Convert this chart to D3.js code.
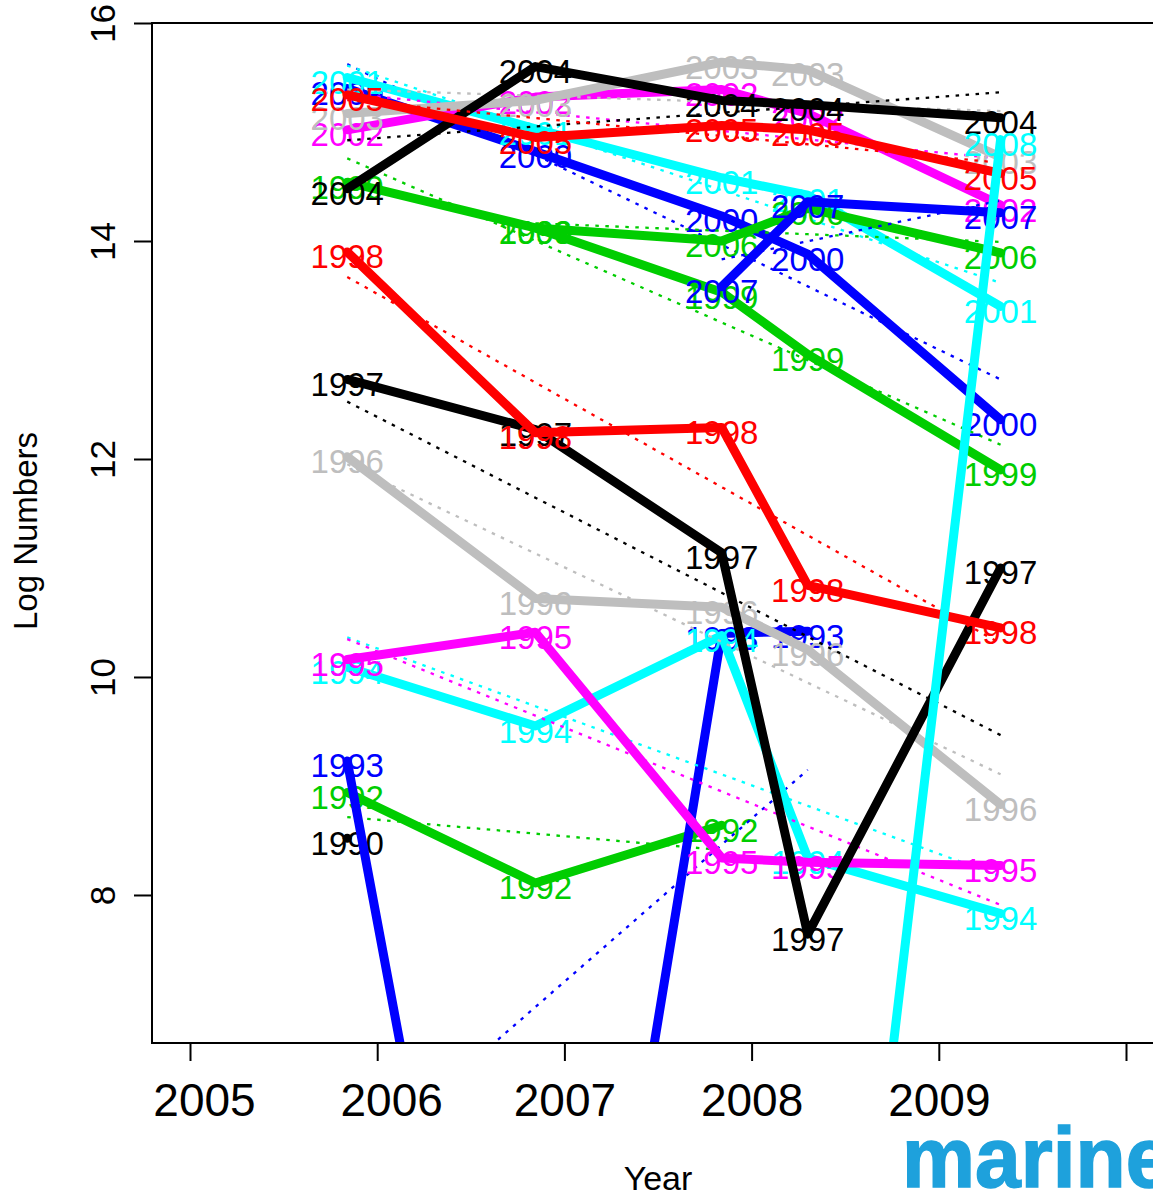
<!DOCTYPE html>
<html>
<head>
<meta charset="utf-8">
<script src="https://d3js.org/d3.v7.min.js"></script>
<style>
  body { margin: 0; background: #fff; }
  svg { display: block; font-family: "Liberation Sans", Arial, Helvetica, sans-serif; }
</style>
</head>
<body>
<script>
// survey dates (decimal year) at which the cohorts were sampled
var surveyTimes = [2005.84, 2006.845, 2007.84, 2008.30, 2009.33];

// year classes, one row of log numbers per year class (null = not in that survey)
var cohorts = [1990, 1992, 1993, 1994, 1995, 1996, 1997, 1998, 1999,
               2000, 2001, 2002, 2003, 2004, 2005, 2006, 2007, 2008];
var logN = [
    [8.52,  null,  null,  null,  null ],   // 1990
    [8.94,  8.11,  8.64,  null,  null ],   // 1992
    [9.23,  0,     10.40, 10.42, null ],   // 1993
    [10.09, 9.55,  10.38, 8.34,  7.83 ],   // 1994
    [10.16, 10.41, 8.34,  8.30,  8.27 ],   // 1995
    [12.02, 10.72, 10.64, 10.25, 8.83 ],   // 1996
    [12.73, 12.27, 11.14, 7.64,  11.00],   // 1997
    [13.90, 12.24, 12.29, 10.84, 10.45],   // 1998
    [14.54, 14.12, 13.53, 12.96, 11.90],   // 1999
    [15.40, 14.82, 14.23, 13.88, 12.36],   // 2000
    [15.50, 15.03, 14.58, 14.42, 13.40],   // 2001
    [15.02, 15.32, 15.39, 15.17, 14.33],   // 2002
    [15.17, 15.29, 15.64, 15.57, 14.77],   // 2003
    [14.48, 15.60, 15.29, 15.25, 15.13],   // 2004
    [15.34, 14.95, 15.06, 15.02, 14.62],   // 2005
    [null,  14.12, 14.00, 14.30, 13.89],   // 2006
    [null,  null,  13.58, 14.36, 14.26],   // 2007
    [null,  null,  null,  0,     14.93]    // 2008
];

// R's default palette, cycled by year class
var palette = ["#000000", "#FF0000", "#00CD00", "#0000FF", "#00FFFF", "#FF00FF", "#BEBEBE"];

var xTicks = [2005, 2006, 2007, 2008, 2009, 2010];
var xTickLabels = ["2005", "2006", "2007", "2008", "2009", ""];
var yTicks = [8, 10, 12, 14, 16];

var W = 1153, H = 1197;
var pLeft = 152, pTop = 23, pBottom = 1043, pRight = 1165;

var svg = d3.select("body").append("svg")
    .attr("width", W)
    .attr("height", H);

var x = d3.scaleLinear().domain([2005, 2010]).range([190, 1126]);
var y = d3.scaleLinear().domain([6.642, 16]).range([pBottom, pTop]);

svg.append("clipPath").attr("id", "plotclip")
  .append("rect")
    .attr("x", pLeft).attr("y", pTop)
    .attr("width", pRight - pLeft).attr("height", pBottom - pTop);

// least squares line through one cohort's points
function fitLine(pts) {
    var mx = d3.mean(pts, function (p) { return p.t; });
    var my = d3.mean(pts, function (p) { return p.v; });
    var sxy = d3.sum(pts, function (p) { return (p.t - mx) * (p.v - my); });
    var sxx = d3.sum(pts, function (p) { return (p.t - mx) * (p.t - mx); });
    var b = sxy / sxx;
    return pts.map(function (p) { return { t: p.t, v: my + b * (p.t - mx) }; });
}

var line = d3.line()
    .x(function (d) { return x(d.t); })
    .y(function (d) { return y(d.v); });

var plot = svg.append("g").attr("clip-path", "url(#plotclip)");

cohorts.forEach(function (yc, i) {
    var col = palette[(yc - 1990) % 7];
    var pts = [];
    logN[i].forEach(function (v, j) {
        if (v !== null) pts.push({ t: surveyTimes[j], v: v });
    });

    plot.append("path")
        .datum(pts)
        .attr("d", line)
        .attr("fill", "none")
        .attr("stroke", col)
        .attr("stroke-width", 9)
        .attr("stroke-linejoin", "round")
        .attr("stroke-linecap", "round");

    if (pts.length > 1) {
        plot.append("path")
            .datum(fitLine(pts))
            .attr("d", line)
            .attr("fill", "none")
            .attr("stroke", col)
            .attr("stroke-width", 2.3)
            .attr("stroke-dasharray", "3.5,6.5");
    }

    plot.selectAll(null)
        .data(pts)
        .enter().append("text")
        .attr("x", function (d) { return x(d.t); })
        .attr("y", function (d) { return y(d.v) + 5; })
        .attr("dominant-baseline", "central")
        .attr("text-anchor", "middle")
        .attr("font-size", 33)
        .attr("fill", col)
        .text(yc);
});

// frame
svg.append("rect")
    .attr("x", pLeft).attr("y", pTop)
    .attr("width", pRight - pLeft).attr("height", pBottom - pTop)
    .attr("fill", "none")
    .attr("stroke", "#000")
    .attr("stroke-width", 2);

// x axis
var xAxis = svg.append("g")
    .attr("transform", "translate(0," + pBottom + ")")
    .call(d3.axisBottom(x)
        .tickValues(xTicks)
        .tickFormat(function (d, i) { return xTickLabels[i]; })
        .tickSize(18)
        .tickPadding(22));
xAxis.select(".domain").remove();
xAxis.selectAll("line").attr("stroke-width", 2);
xAxis.selectAll("text")
    .attr("font-size", 46)
    .attr("font-family", "Liberation Sans, Arial, sans-serif")
    .attr("fill", "#000")
    .attr("dx", function (d, i) { return i < 2 ? 14 : 0; });

// y axis
var yAxis = svg.append("g")
    .attr("transform", "translate(" + pLeft + ",0)")
    .call(d3.axisLeft(y).tickValues(yTicks).tickSize(18));
yAxis.select(".domain").remove();
yAxis.selectAll("line").attr("stroke-width", 2);
yAxis.selectAll("text")
    .attr("x", null)
    .attr("dy", null)
    .attr("text-anchor", "middle")
    .attr("transform", "translate(-37,0) rotate(-90)")
    .attr("font-size", 35)
    .attr("font-family", "Liberation Sans, Arial, sans-serif")
    .attr("fill", "#000");

// axis titles
svg.append("text")
    .attr("transform", "translate(37,531) rotate(-90)")
    .attr("text-anchor", "middle")
    .attr("font-size", 33)
    .text("Log Numbers");

svg.append("text")
    .attr("x", 658).attr("y", 1190)
    .attr("text-anchor", "middle")
    .attr("font-size", 34)
    .text("Year");

// logo, cut by the right edge
svg.append("text")
    .attr("transform", "translate(902,1187) scale(0.955,1)")
    .attr("font-size", 86)
    .attr("font-weight", "bold")
    .attr("fill", "#1ea1dc")
    .attr("stroke", "#1ea1dc")
    .attr("stroke-width", 1.5)
    .text("marine");
</script>
</body>
</html>
